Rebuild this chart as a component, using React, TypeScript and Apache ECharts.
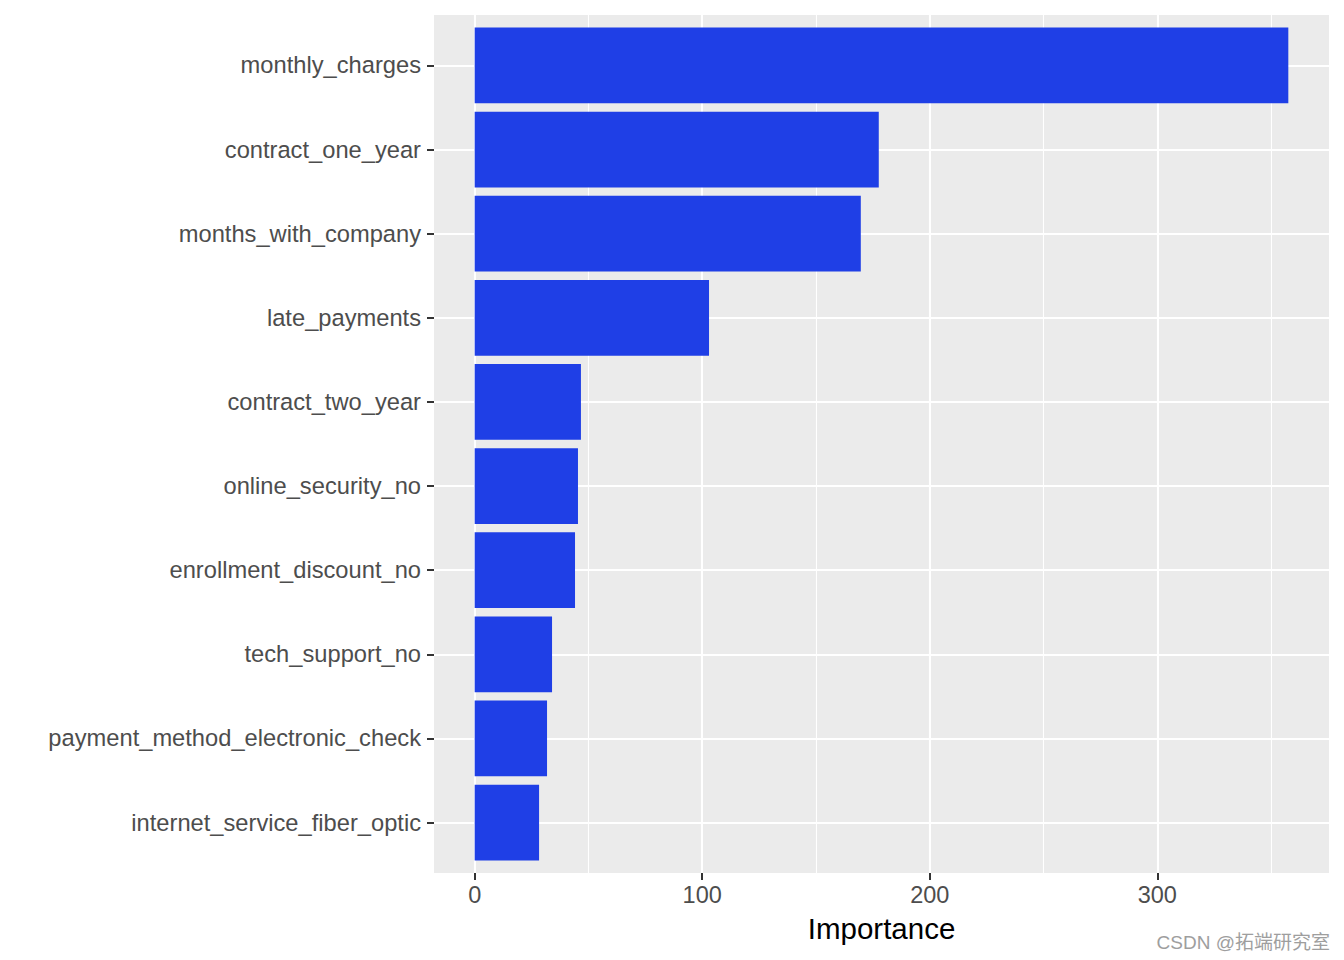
import React, { useEffect, useRef } from "react";
import * as echarts from "echarts";

const categories = [
  "monthly_charges",
  "contract_one_year",
  "months_with_company",
  "late_payments",
  "contract_two_year",
  "online_security_no",
  "enrollment_discount_no",
  "tech_support_no",
  "payment_method_electronic_check",
  "internet_service_fiber_optic",
];
const importance = [357.6, 177.6, 169.7, 103.0, 46.7, 45.4, 44.1, 34.0, 31.8, 28.3];
const xTicks = [0, 100, 200, 300];
const xTitle = "Importance";
const watermark = "CSDN @拓端研究室";

const FONT = "'Liberation Sans', Arial, Helvetica, sans-serif";

export default function App() {
  const ref = useRef<HTMLDivElement>(null);
  useEffect(() => {
    if (!ref.current) return;
    const chart = echarts.init(ref.current, null, { renderer: "svg" });
    const dataMax = Math.max(...importance);
    const pad = dataMax * 0.05;
    const xMin = -pad;
    const xMax = dataMax + pad;

    const panel = { left: 434, top: 15, width: 895, height: 858 };
    const band = panel.height / (categories.length + 0.2);

    chart.setOption({
      animation: false,
      backgroundColor: "#ffffff",
      textStyle: { fontFamily: FONT },
      grid: [
        {
          left: panel.left,
          top: panel.top,
          width: panel.width,
          height: panel.height,
          show: true,
          backgroundColor: "#EBEBEB",
          borderWidth: 0,
        },
        {
          left: panel.left,
          top: panel.top + band * 0.1,
          width: panel.width,
          height: band * categories.length,
        },
      ],
      xAxis: [
        {
          gridIndex: 0,
          type: "value",
          min: xMin,
          max: xMax,
          axisLine: { show: false, onZero: false },
          axisTick: {
            show: true,
            customValues: xTicks,
            length: 7,
            lineStyle: { color: "#333333", width: 2 },
          },
          axisLabel: {
            customValues: xTicks,
            color: "#4D4D4D",
            fontSize: 23.5,
            margin: 10,
            fontFamily: FONT,
          },
          splitLine: { show: true, lineStyle: { color: "#ffffff", width: 2.1 } },
          minorTick: { show: false, splitNumber: 2 },
          minorSplitLine: { show: true, lineStyle: { color: "#ffffff", width: 1.1 } },
        },
        {
          gridIndex: 1,
          type: "value",
          min: xMin,
          max: xMax,
          show: false,
          splitLine: { show: false },
        },
      ],
      yAxis: [
        {
          gridIndex: 0,
          type: "value",
          show: false,
          splitLine: { show: false },
        },
        {
          gridIndex: 1,
          type: "category",
          data: categories,
          inverse: true,
          axisLine: { show: false, onZero: false },
          axisTick: {
            show: true,
            alignWithLabel: true,
            length: 7,
            lineStyle: { color: "#333333", width: 2 },
          },
          axisLabel: {
            color: "#4D4D4D",
            fontSize: 23.7,
            margin: 13,
            fontFamily: FONT,
          },
          splitLine: {
            show: true,
            alignWithLabel: true,
            lineStyle: { color: "#ffffff", width: 2.1 },
          },
        },
      ],
      series: [
        {
          type: "bar",
          xAxisIndex: 1,
          yAxisIndex: 1,
          data: importance,
          barCategoryGap: "10%",
          itemStyle: { color: "#1F3FE6" },
        },
      ],
      graphic: [
        {
          type: "text",
          x: panel.left + panel.width / 2,
          y: 928,
          style: {
            text: xTitle,
            fill: "#000000",
            fontSize: 29.5,
            fontFamily: FONT,
            textAlign: "center",
            textVerticalAlign: "middle",
          },
        },
        {
          type: "text",
          x: 1330,
          y: 942,
          style: {
            text: watermark,
            fill: "#9E9E9E",
            fontSize: 19,
            fontFamily: "'Liberation Sans', 'Noto Sans CJK SC', sans-serif",
            textAlign: "right",
            textVerticalAlign: "middle",
          },
        },
      ],
    });
    return () => chart.dispose();
  }, []);
  return (
    <div
      ref={ref}
      style={{ position: "fixed", left: 0, top: 0, width: 1344, height: 960 }}
    />
  );
}
